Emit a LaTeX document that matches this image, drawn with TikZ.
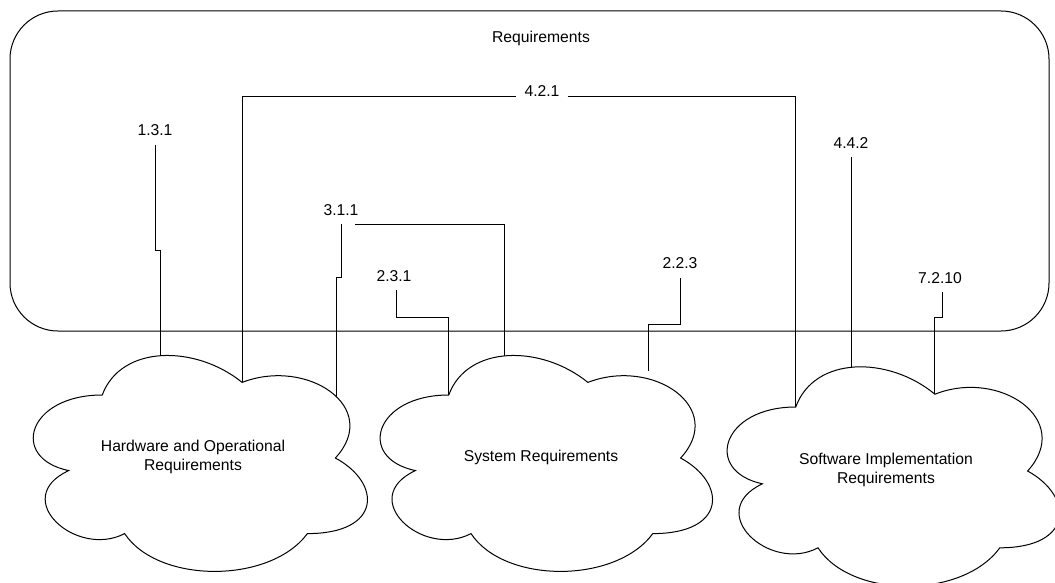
\documentclass[tikz,border=0pt]{standalone}
\usepackage{fontspec}
\setmainfont{Liberation Sans}
\begin{document}
\begin{tikzpicture}[x=1pt,y=-1pt,
  wire/.style={draw=black,line width=1pt},
  outline/.style={draw=black,line width=1pt,fill=white},
  lbl/.style={font=\fontsize{15.7}{19}\selectfont,inner sep=0pt,align=center},
]
\useasboundingbox (0,0) rectangle (1055,583);
\clip (0,0) rectangle (1055,583);

% outer container
\draw[outline,rounded corners=48pt] (10,11) rectangle (1049,331);
\node[lbl,anchor=base] (title) at (541,42.5) {Requirements};

% cloud outline in unit coordinates (scaled per scope)
\newcommand{\cloudshape}{(0.25,0.25) .. controls (0.05,0.25) and (0,0.5) .. (0.16,0.55)
  .. controls (0,0.66) and (0.18,0.9) .. (0.31,0.8)
  .. controls (0.4,1) and (0.7,1) .. (0.8,0.8)
  .. controls (1,0.8) and (1,0.6) .. (0.875,0.5)
  .. controls (1,0.3) and (0.8,0.1) .. (0.625,0.2)
  .. controls (0.5,0.05) and (0.3,0.05) .. (0.25,0.25) -- cycle}

\begin{scope}[shift={(9,332)},x=373pt,y=-252pt]
  \draw[outline] \cloudshape;
  \coordinate (hwA) at (0.625,0.2);
\end{scope}
\begin{scope}[shift={(356,332)},x=371pt,y=-252pt]
  \draw[outline] \cloudshape;
  \coordinate (sysA) at (0.25,0.25);
\end{scope}
\begin{scope}[shift={(703,343)},x=371pt,y=-256pt]
  \draw[outline] \cloudshape;
  \coordinate (swA) at (0.25,0.25);
  \coordinate (swB) at (0.625,0.2);
\end{scope}

% points on the cloud outlines
\coordinate (hwTop) at (160.7,355.6);
\coordinate (hwRight) at (336.7,397);
\coordinate (sysTop) at (504,356);
\coordinate (sysEnd) at (648,371);
\coordinate (swTop) at (851,367.3);

\node[lbl] (hw) at (193,457) {Hardware and Operational\\Requirements};
\node[lbl] (sys) at (541,457) {System Requirements};
\node[lbl] (sw) at (886,470) {Software Implementation\\Requirements};

% requirement labels
\node[lbl] (r131) at (155,130) {1.3.1};
\node[lbl] (r421) at (542,91) {4.2.1};
\node[lbl] (r311) at (341,210) {3.1.1};
\node[lbl] (r231) at (394,276) {2.3.1};
\node[lbl] (r223) at (680,263) {2.2.3};
\node[lbl] (r442) at (851,143) {4.4.2};
\node[lbl] (r7210) at (940,278) {7.2.10};

% connectors
\draw[wire] ([yshift=-9pt]r131.south) -- ++(0,106) -| (hwTop);
\draw[wire] (hwA) |- ([xshift=-8pt,yshift=-5.7pt]r421.west);
\draw[wire] ([xshift=8pt,yshift=-5.7pt]r421.east) -| (swA);
\draw[wire] ([xshift=0.7pt,yshift=-8.3pt]r311.south) -- ++(0,53) -| (hwRight);
\draw[wire] ([xshift=14pt,yshift=-8.3pt]r311.south) -| (sysTop);
\draw[wire] ([xshift=2pt,yshift=-8.3pt]r231.south) -- ++(0,27) -| (sysA);
\draw[wire] ([yshift=-9.3pt]r223.south) -- ++(0,46) -| (sysEnd);
\draw[wire] ([yshift=-8.3pt]r442.south) -- (swTop);
\draw[wire] ([xshift=2pt,yshift=-8.3pt]r7210.south) -- ++(0,25) -| (swB);
\end{tikzpicture}
\end{document}
